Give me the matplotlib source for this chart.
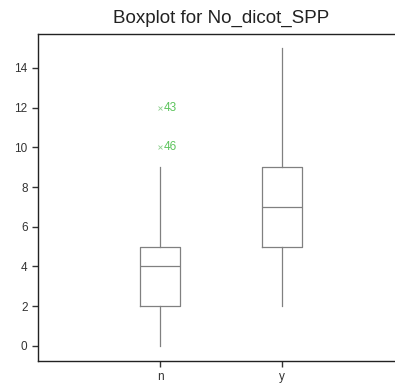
import numpy as np
import matplotlib
matplotlib.use('Agg')
import matplotlib.pyplot as plt

plt.rcParams['font.family'] = ['Liberation Sans', 'DejaVu Sans']

# box stats
groups  = ['n', 'y']
whislo  = [0., 2.]
q1      = [2., 5.]
med     = [4., 7.]
q3      = [5., 9.]
whishi  = [9., 15.]
fliers  = [[12., 10.], []]
flier_ids = [['43', '46'], []]

line_c = '#808080'
out_c  = '#5cc45c'

stats = []
for i, g in enumerate(groups):
    stats.append(dict(label=g, whislo=whislo[i], q1=q1[i], med=med[i],
                      q3=q3[i], whishi=whishi[i], fliers=fliers[i]))

fig = plt.figure(figsize=(3.95, 3.85), dpi=100)
ax = fig.add_axes([38/395., 1 - 361/385., 366/395., 327/385.])

ax.bxp(stats, positions=[1, 2], widths=0.33, showcaps=False,
       boxprops=dict(color=line_c, lw=0.9),
       whiskerprops=dict(color=line_c, lw=0.9),
       medianprops=dict(color=line_c, lw=0.9),
       flierprops=dict(marker='x', markeredgecolor='#8fd08f', markersize=3.5, mew=0.6))

for i in range(len(groups)):
    for v, lab in zip(fliers[i], flier_ids[i]):
        ax.annotate(lab, (i + 1, v), xytext=(2.5, 0), textcoords='offset points',
                    color=out_c, fontsize=8.5, va='center', ha='left')

ax.set_xlim(0, 3)
ax.set_ylim(-0.76, 15.71)
ax.set_yticks(np.arange(0, 15, 2))
ax.set_xticks([1, 2])
ax.set_xticklabels(groups)
ax.tick_params(labelsize=8.5, colors='#333333', length=4, width=1)
ax.spines['right'].set_visible(False)
for s in ['left', 'bottom', 'top']:
    ax.spines[s].set_color('#222222')
    ax.spines[s].set_linewidth(1)

ax.set_title('Boxplot for No_dicot_SPP', fontsize=13.5, pad=8, color='#222222')

fig.savefig('out.png', dpi=100)
